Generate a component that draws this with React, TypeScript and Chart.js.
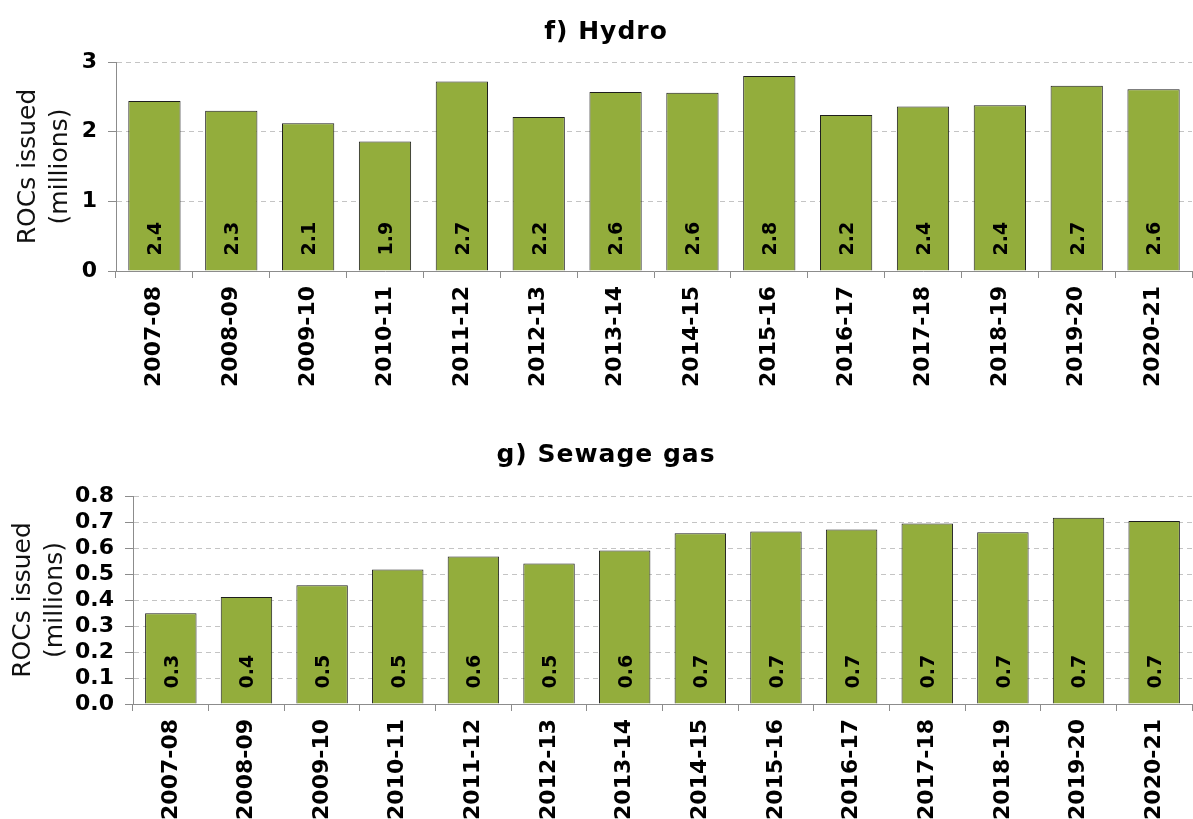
import React, { useEffect, useRef } from "react";
import { Chart, registerables } from "chart.js";

Chart.register(...registerables);

const FONT = "'DejaVu Sans', Verdana, sans-serif";
Chart.defaults.font.family = FONT;

const categories = [
  "2007-08", "2008-09", "2009-10", "2010-11", "2011-12", "2012-13", "2013-14",
  "2014-15", "2015-16", "2016-17", "2017-18", "2018-19", "2019-20", "2020-21",
];

const hydroValues = [2.44, 2.3, 2.12, 1.86, 2.72, 2.21, 2.57, 2.56, 2.8, 2.24, 2.36, 2.38, 2.66, 2.61];
const sewageValues = [0.349, 0.412, 0.457, 0.517, 0.567, 0.54, 0.59, 0.657, 0.663, 0.671, 0.694, 0.661, 0.716, 0.704];

const hydroTicks = [0, 1, 2, 3];
const sewageTicks = [0, 0.1, 0.2, 0.3, 0.4, 0.5, 0.6, 0.7, 0.8];

const hydroTitle = "f) Hydro";
const sewageTitle = "g) Sewage gas";
const yTitleLines = ["ROCs issued", "(millions)"];

const BAR_FILL = "#93AD3C";
const BAR_BORDER = "#1e1e1e";
const AXIS_GRAY = "#8c8c8c";
const GRID_GRAY = "#c4c4c4";

type Spec = {
  values: number[];
  ticks: number[];
  decimals: number;
  title: string;
  width: number;
  height: number;
  plotLeft: number;
  plotTop: number;
  plotBottom: number;
  titleX: number;
  titleBaseline: number;
  yTitleBaselines: number[];
};

function makeChart(canvas: HTMLCanvasElement, s: Spec) {
  const decorPlugin = {
    id: "decor" + s.title,
    afterDatasetsDraw(chart: any) {
      const ctx = chart.ctx as CanvasRenderingContext2D;
      const meta = chart.getDatasetMeta(0);
      const fontSize = 19;
      const capHalf = (fontSize * 0.729) / 2;
      ctx.save();
      ctx.font = `bold ${fontSize}px ${FONT}`;
      ctx.fillStyle = "#000";
      ctx.textAlign = "left";
      ctx.textBaseline = "alphabetic";
      meta.data.forEach((el: any, i: number) => {
        const p = el.getProps(["x", "base"], true);
        ctx.save();
        ctx.translate(p.x + capHalf, p.base - 15);
        ctx.rotate(-Math.PI / 2);
        ctx.fillText(s.values[i].toFixed(1), 0, 0);
        ctx.restore();
      });
      ctx.restore();
    },
    afterDraw(chart: any) {
      const ctx = chart.ctx as CanvasRenderingContext2D;
      const area = chart.chartArea;
      ctx.save();
      // Title
      ctx.font = `bold 25px ${FONT}`;
      (ctx as any).letterSpacing = "1px";
      ctx.fillStyle = "#000";
      ctx.textAlign = "center";
      ctx.textBaseline = "alphabetic";
      ctx.fillText(s.title, s.titleX, s.titleBaseline);
      (ctx as any).letterSpacing = "0px";
      // Y-axis title
      ctx.font = `25px ${FONT}`;
      ctx.fillStyle = "#111";
      const cy = (area.top + area.bottom) / 2;
      yTitleLines.forEach((line, i) => {
        ctx.save();
        ctx.translate(s.yTitleBaselines[i], cy);
        ctx.rotate(-Math.PI / 2);
        ctx.fillText(line, 0, 0);
        ctx.restore();
      });
      ctx.restore();
    },
  };

  return new Chart(canvas, {
    type: "bar",
    data: {
      labels: categories,
      datasets: [
        {
          data: s.values,
          backgroundColor: BAR_FILL,
          borderColor: BAR_BORDER,
          borderWidth: 1,
          borderSkipped: "start",
          inflateAmount: 0,
          barPercentage: 0.68,
          categoryPercentage: 1,
        },
      ],
    },
    options: {
      responsive: false,
      animation: false,
      devicePixelRatio: 1,
      layout: {
        padding: { top: s.plotTop, left: 0, right: 1, bottom: 0 },
      },
      plugins: {
        legend: { display: false },
        tooltip: { enabled: false },
        title: { display: false },
      },
      scales: {
        x: {
          type: "category",
          offset: true,
          grid: {
            display: true,
            offset: true,
            drawOnChartArea: false,
            drawTicks: true,
            tickLength: 7,
            tickColor: AXIS_GRAY,
            tickWidth: 1,
            tickBorderDash: [],
          },
          border: { display: true, color: AXIS_GRAY, width: 1 },
          ticks: {
            autoSkip: false,
            minRotation: 90,
            maxRotation: 90,
            padding: 8,
            color: "#000",
            font: { size: 22, weight: "bold", family: FONT },
          },
          afterFit(scale: any) {
            scale.height = s.height - s.plotBottom;
          },
        },
        y: {
          type: "linear",
          min: s.ticks[0],
          max: s.ticks[s.ticks.length - 1],
          afterBuildTicks(scale: any) {
            scale.ticks = s.ticks.map((v) => ({ value: v }));
          },
          grid: {
            display: true,
            drawOnChartArea: true,
            drawTicks: true,
            tickLength: 8,
            color: (c: any) => (c.tick && c.tick.value === 0 ? "rgba(0,0,0,0)" : GRID_GRAY),
            tickColor: AXIS_GRAY,
            tickWidth: 1,
            tickBorderDash: [],
            lineWidth: 1,
          },
          border: { display: true, color: AXIS_GRAY, width: 1, dash: [5, 4] },
          ticks: {
            autoSkip: false,
            padding: 11,
            color: "#000",
            font: { size: 22, weight: "bold", family: FONT },
            callback: (v: any) => Number(v).toFixed(s.decimals),
          },
          afterFit(scale: any) {
            scale.width = s.plotLeft;
          },
        },
      },
    },
    plugins: [decorPlugin as any],
  } as any);
}

function ChartCanvas({ spec }: { spec: Spec }) {
  const ref = useRef<HTMLCanvasElement | null>(null);
  useEffect(() => {
    if (!ref.current) return;
    const chart = makeChart(ref.current, spec);
    return () => chart.destroy();
  }, [spec]);
  return (
    <canvas
      ref={ref}
      width={spec.width}
      height={spec.height}
      style={{ display: "block", width: spec.width, height: spec.height }}
    />
  );
}

const topSpec: Spec = {
  values: hydroValues,
  ticks: hydroTicks,
  decimals: 0,
  title: hydroTitle,
  width: 1193,
  height: 410,
  plotLeft: 116,
  plotTop: 62,
  plotBottom: 271,
  titleX: 606,
  titleBaseline: 39,
  yTitleBaselines: [35, 67],
};

const bottomSpec: Spec = {
  values: sewageValues,
  ticks: sewageTicks,
  decimals: 1,
  title: sewageTitle,
  width: 1193,
  height: 409,
  plotLeft: 133,
  plotTop: 86,
  plotBottom: 294,
  titleX: 606,
  titleBaseline: 52,
  yTitleBaselines: [30, 62],
};

export default function App() {
  return (
    <div style={{ position: "absolute", left: 0, top: 0, width: 1193, height: 819, background: "#fff" }}>
      <ChartCanvas spec={topSpec} />
      <ChartCanvas spec={bottomSpec} />
    </div>
  );
}
